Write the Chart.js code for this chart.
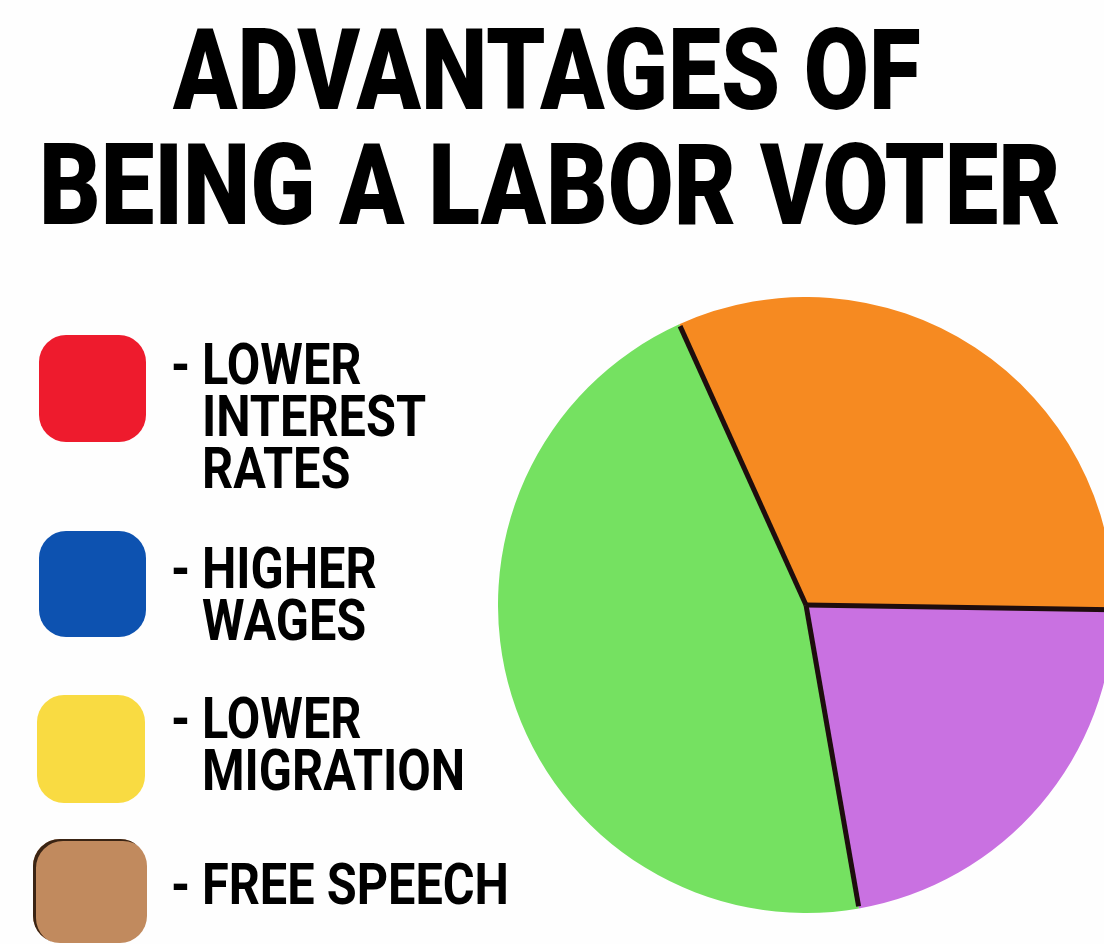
<!DOCTYPE html>
<html>
<head>
<meta charset="utf-8">
<script src="https://cdn.jsdelivr.net/npm/chart.js@4.4.1/dist/chart.umd.min.js"></script>
<style>
  html, body { margin: 0; padding: 0; width: 1104px; height: 944px; overflow: hidden; background: #fefefe; }
  .txt { position: absolute; font-family: Roboto, "Noto Sans", sans-serif; color: #000;
         white-space: nowrap; transform-origin: 0 0; }
  .swatch { position: absolute; border-radius: 27px; }
  #pieBox { position: absolute; left: 498px; top: 297px; width: 616px; height: 616px; }
</style>
</head>
<body>
<div id="pieBox"><canvas id="pie"></canvas></div>
<script>
// chart content
const titleLines = ['ADVANTAGES OF', 'BEING A LABOR VOTER'];
const legendLabels = [['LOWER', 'INTEREST', 'RATES'], ['HIGHER', 'WAGES'], ['LOWER', 'MIGRATION'], ['FREE SPEECH']];
const legendColors = ['#ee1b2d', '#0d52b0', '#f9db42', '#c18a5e'];
const sliceLabels = ['Orange', 'Purple', 'Green'];
const sliceValues = [32, 22, 46];
const sliceColors = ['#f68a21', '#c971e1', '#75e161'];

// layout
const titleFont = 114;
const titleWeight = 900;
const titlePos = [{ left: 177, capTop: 28, width: 741 }, { left: 43, capTop: 143, width: 1015 }];
const legendFont = 58;
const legendWeight = 700;
const legendLineGap = 52;
const legendCapTops = [343, 547, 697, 863];
const swatchBoxes = [[39, 335, 107, 107], [39, 531, 107, 106], [37, 695, 108, 108], [33, 839, 114, 104]];

function textWidth(str, size, weight) {
  const c = document.createElement('canvas').getContext('2d');
  c.font = weight + ' ' + size + 'px Roboto';
  return c.measureText(str).width;
}

function placeText(str, left, capTop, size, weight, scale) {
  const d = document.createElement('div');
  d.className = 'txt';
  d.textContent = str;
  d.style.fontSize = size + 'px';
  d.style.fontWeight = weight;
  d.style.lineHeight = size + 'px';
  d.style.left = left + 'px';
  d.style.top = (capTop - 0.1305 * size) + 'px';
  d.style.transform = 'scaleX(' + scale + ')';
  document.body.appendChild(d);
}

titleLines.forEach((t, i) => {
  const p = titlePos[i];
  // ink is a bit narrower than the advance width
  placeText(t, p.left - 4, p.capTop, titleFont, titleWeight,
            p.width / (textWidth(t, titleFont, titleWeight) - 8));
});

const legendScale = 259 / (textWidth('MIGRATION', legendFont, legendWeight) - 5);
legendLabels.forEach((lines, i) => {
  const b = swatchBoxes[i];
  const s = document.createElement('div');
  s.className = 'swatch';
  s.style.left = b[0] + 'px';
  s.style.top = b[1] + 'px';
  s.style.width = b[2] + 'px';
  s.style.height = b[3] + 'px';
  s.style.background = legendColors[i];
  if (i === 3) s.style.boxShadow = 'inset 3px 2px 0 #3a2414';
  document.body.appendChild(s);

  placeText('-', 171, legendCapTops[i], legendFont, legendWeight, legendScale);
  lines.forEach((ln, j) => {
    placeText(ln, 202, legendCapTops[i] + j * legendLineGap, legendFont, legendWeight, legendScale);
  });
});

// dark radial lines between slices, no outline on the rim
const separators = {
  id: 'separators',
  afterDatasetsDraw(chart) {
    const ctx = chart.ctx;
    const arcs = chart.getDatasetMeta(0).data;
    ctx.save();
    ctx.strokeStyle = '#1e0d0d';
    ctx.lineWidth = 5;
    arcs.forEach(a => {
      const p = a.getProps(['x', 'y', 'startAngle', 'outerRadius']);
      ctx.beginPath();
      ctx.moveTo(p.x, p.y);
      ctx.lineTo(p.x + Math.cos(p.startAngle) * (p.outerRadius - 2),
                 p.y + Math.sin(p.startAngle) * (p.outerRadius - 2));
      ctx.stroke();
    });
    ctx.restore();
  }
};

new Chart(document.getElementById('pie'), {
  type: 'pie',
  data: {
    labels: sliceLabels,
    datasets: [{
      data: sliceValues,
      backgroundColor: sliceColors,
      borderWidth: 0
    }]
  },
  options: {
    responsive: true,
    maintainAspectRatio: false,
    animation: false,
    rotation: -24.3,
    layout: { padding: 0 },
    plugins: {
      legend: { display: false },
      tooltip: { enabled: false }
    }
  },
  plugins: [separators]
});
</script>
</body>
</html>
